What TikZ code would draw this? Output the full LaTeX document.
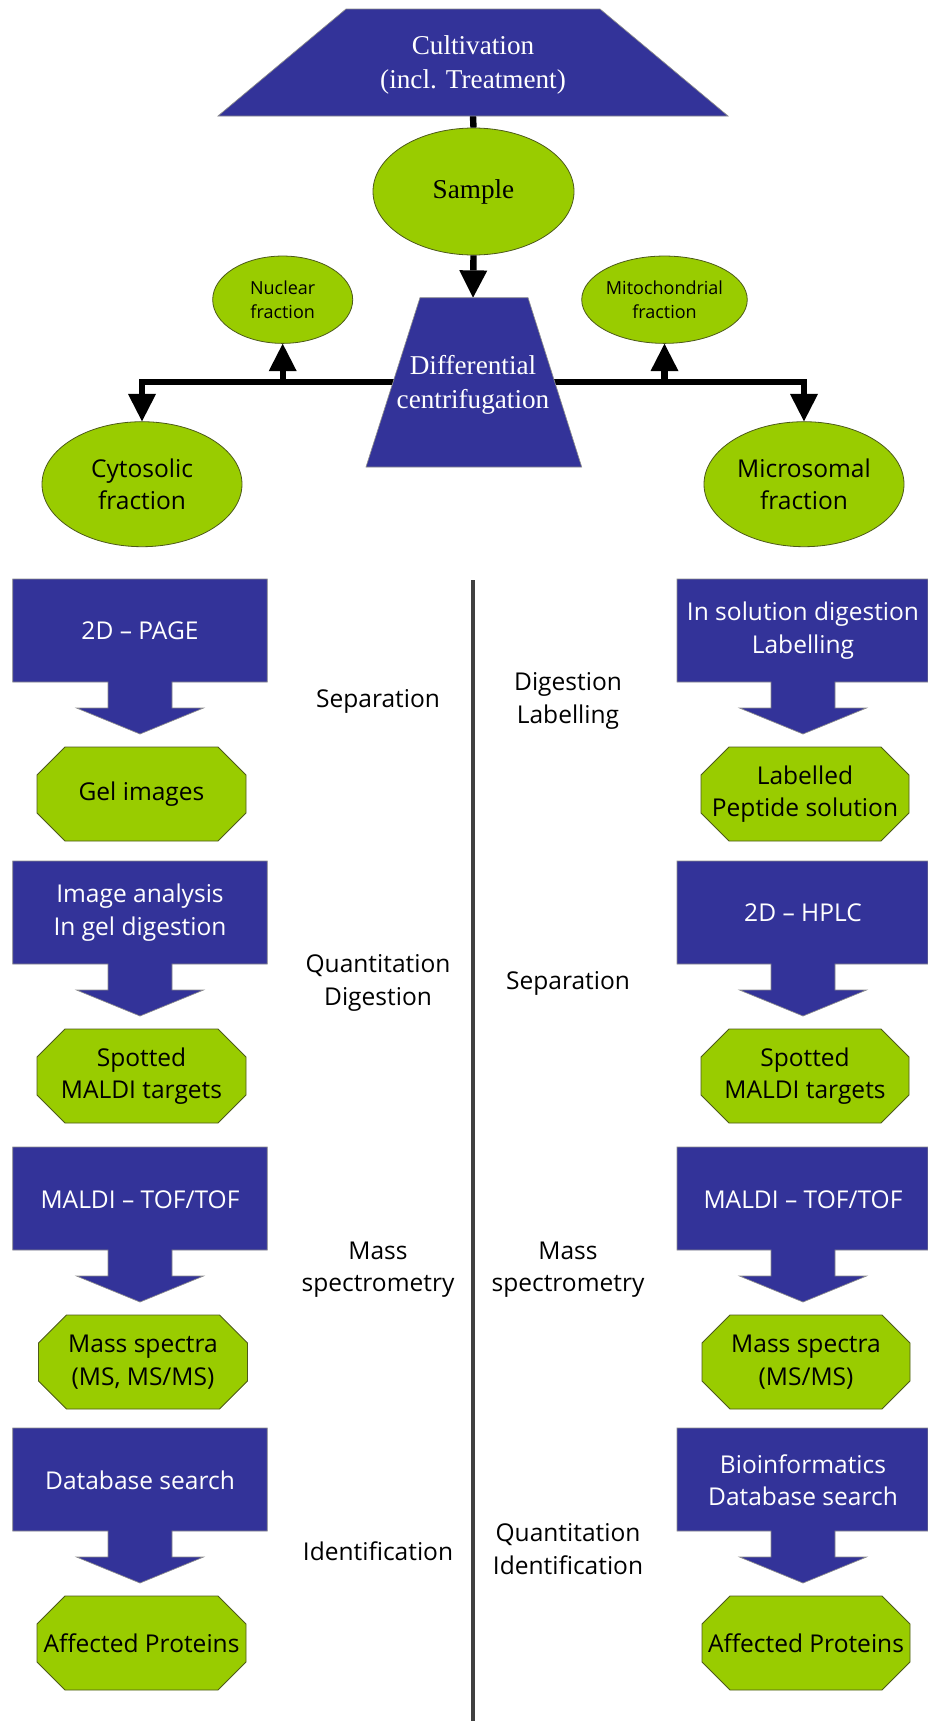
\documentclass[tikz,border=0pt]{standalone}
\usepackage{fontspec}
\setmainfont{Liberation Serif}
\newfontfamily\hum{Open Sans}
\usetikzlibrary{arrows.meta,shapes.geometric}
\definecolor{boxblue}{HTML}{333399}
\definecolor{leaf}{HTML}{99CC00}
\definecolor{rim}{HTML}{4D5A1A}

% block arrow: box with a downward arrow; args: centre x, left, right, top
\newcommand\blockarrow[4]{%
  \path[blueshape] (#2,#4) -- (#3,#4) -- (#3,#4+103) -- (#1+32,#4+103)
    -- (#1+32,#4+129) -- (#1+63.5,#4+129) -- (#1,#4+155) -- (#1-63.5,#4+129)
    -- (#1-32,#4+129) -- (#1-32,#4+103) -- (#2,#4+103) -- cycle;}
% chamfered box; args: left, right, top
\newcommand\octa[3]{%
  \path[greenshape] (#1+28,#3) -- (#2-28,#3) -- (#2,#3+28) -- (#2,#3+66)
    -- (#2-28,#3+94) -- (#1+28,#3+94) -- (#1,#3+66) -- (#1,#3+28) -- cycle;}

\begin{document}
\begin{tikzpicture}[x=0.75pt,y=-0.75pt,
  serifwhite/.style={text=white,font=\fontsize{20.4pt}{25.5pt}\selectfont,align=center,inner sep=0pt},
  bigtxt/.style={font=\hum\fontsize{18.4pt}{24.4pt}\selectfont,align=center,inner sep=0pt},
  boxtxt/.style={bigtxt,text=white},
  smalltxt/.style={font=\hum\fontsize{13.5pt}{18pt}\selectfont,align=center,inner sep=0pt},
  sampleell/.style={ellipse,fill=leaf,draw=rim,line width=0.6pt,inner sep=0pt,
    minimum width=150.75pt,minimum height=95.25pt,font=\fontsize{20.4pt}{25.5pt}\selectfont},
  bigell/.style={ellipse,fill=leaf,draw=rim,line width=0.6pt,bigtxt,
    minimum width=150pt,minimum height=93.75pt},
  smallell/.style={ellipse,fill=leaf,draw=rim,line width=0.6pt,smalltxt,
    minimum width=105pt,minimum height=65.5pt},
  conn/.style={line width=4.8pt,black},
  arr/.style={conn,-{Triangle[width=21pt,length=20.5pt,line width=0pt]}},
  blueshape/.style={fill=boxblue,draw=black!45,line width=0.5pt},
  greenshape/.style={fill=leaf,draw=rim,line width=0.6pt},
  divider/.style={line width=2.4pt,black!75}
]
\fill[white] (0,0) rectangle (928,1721);
\useasboundingbox (0,0) rectangle (928,1721);

% ---- upper part: preparation and fractionation ----
\coordinate (cultB) at (473,116);
\coordinate (diffT) at (473,297.7);
\coordinate (hub) at (473,381.7);

\node[sampleell] (sample) at (473.5,191.5) {Sample};
\node[smallell] (nuc) at (282.7,299.7) {Nuclear\\fraction};
\node[smallell] (mito) at (664.5,299.7) {Mitochondrial\\fraction};
\node[bigell] (cyto) at (142,484.2) {Cytosolic\\fraction};
\node[bigell] (micro) at (804,484.2) {Microsomal\\fraction};

\draw[conn] (cultB) -- (sample.north);
\draw[arr] (sample.south) -- (diffT);
\draw[arr] (hub) -| (cyto.north);
\draw[arr] (hub) -| (micro.north);
\draw[arr] (nuc.south |- hub) -- (nuc.south);
\draw[arr] (mito.south |- hub) -- (mito.south);

\path[blueshape] (346,9) -- (600,9) -- (728,116) -- (218,116) -- cycle;
\node[serifwhite] (cult) at (473,65) {Cultivation\\(incl. Treatment)};

\path[blueshape] (420,297.7) -- (528,297.7) -- (581.7,467) -- (366,467) -- cycle;
\node[serifwhite] (diff) at (473,385) {Differential\\centrifugation};

% ---- lower part: two workflows ----
\coordinate (divTop) at (473,580);
\coordinate (divBot) at (473,1721);
\draw[divider] (divTop) -- (divBot);

% row 1
\blockarrow{140}{12.7}{267.3}{579}
\blockarrow{803}{677}{928}{579}
\octa{37}{246}{747}
\octa{701}{909}{747}
\node[boxtxt] (l1box) at (140,630.5) {2D – PAGE};
\node[boxtxt] (r1box) at (803,630.5) {In solution digestion\\Labelling};
\node[bigtxt] (l1res) at (141.5,794) {Gel images};
\node[bigtxt] (r1res) at (805,794) {Labelled\\Peptide solution};
\node[bigtxt] (l1lab) at (378,701) {Separation};
\node[bigtxt] (r1lab) at (568,701) {Digestion\\Labelling};

% row 2
\blockarrow{140}{12.7}{267.3}{861}
\blockarrow{803}{677}{928}{861}
\octa{37}{246}{1029}
\octa{701}{909}{1029}
\node[boxtxt] (l2box) at (140,912.5) {Image analysis\\In gel digestion};
\node[boxtxt] (r2box) at (803,912.5) {2D – HPLC};
\node[bigtxt] (l2res) at (141.5,1076) {Spotted\\MALDI targets};
\node[bigtxt] (r2res) at (805,1076) {Spotted\\MALDI targets};
\node[bigtxt] (l2lab) at (378,983) {Quantitation\\Digestion};
\node[bigtxt] (r2lab) at (568,983) {Separation};

% row 3
\blockarrow{140}{12.7}{267.3}{1147}
\blockarrow{803}{677}{928}{1147}
\octa{38.5}{247.5}{1315}
\octa{702}{910}{1315}
\node[boxtxt] (l3box) at (140,1200) {MALDI – TOF/TOF};
\node[boxtxt] (r3box) at (803,1200) {MALDI – TOF/TOF};
\node[bigtxt] (l3res) at (143,1362) {Mass spectra\\(MS, MS/MS)};
\node[bigtxt] (r3res) at (806,1362) {Mass spectra\\(MS/MS)};
\node[bigtxt] (l3lab) at (378,1269.5) {Mass\\spectrometry};
\node[bigtxt] (r3lab) at (568,1269.5) {Mass\\spectrometry};

% row 4
\blockarrow{140}{12.7}{267.3}{1428}
\blockarrow{803}{677}{928}{1428}
\octa{37}{246}{1596}
\octa{702}{910}{1596}
\node[boxtxt] (l4box) at (140,1480) {Database search};
\node[boxtxt] (r4box) at (803,1480) {Bioinformatics\\Database search};
\node[bigtxt] (l4res) at (141.5,1643) {Affected Proteins};
\node[bigtxt] (r4res) at (806,1643) {Affected Proteins};
\node[bigtxt] (l4lab) at (378,1551) {Identification};
\node[bigtxt] (r4lab) at (568,1549) {Quantitation\\Identification};
\end{tikzpicture}
\end{document}
